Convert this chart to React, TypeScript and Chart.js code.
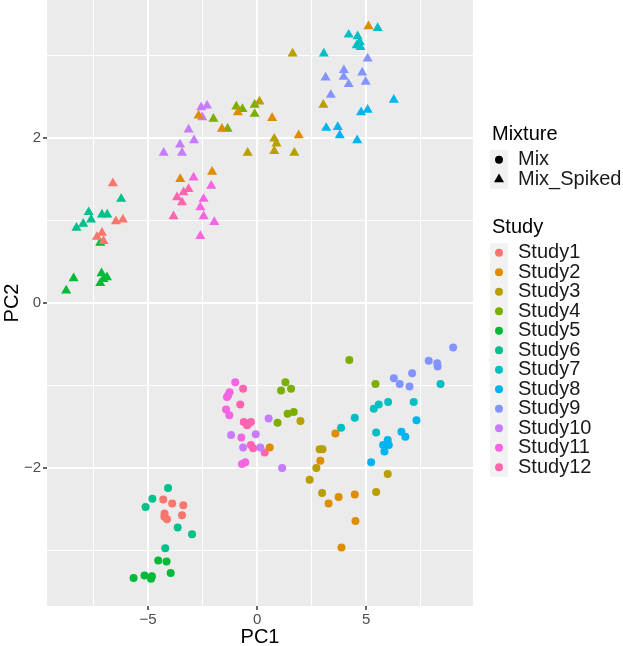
import React, { useEffect, useRef } from 'react';
import { Chart, registerables } from 'chart.js';

Chart.register(...registerables);

// ---- Categories ----
const studies = ['Study1', 'Study2', 'Study3', 'Study4', 'Study5', 'Study6', 'Study7', 'Study8', 'Study9', 'Study10', 'Study11', 'Study12'];
const studyColors = ['#F8766D', '#DE8C00', '#B79F00', '#7CAE00', '#00BA38', '#00C08B', '#00BFC4', '#00B4F0', '#8494FF', '#C77CFF', '#F564E3', '#FF64B0'];
const mixtures = ['Mix', 'Mix_Spiked'];

// ---- Axis ----
const xTickValues = [-5, 0, 5];
const yTickValues = [-2, 0, 2];
const xLimits = [-9.63, 9.9];
const yLimits = [-3.67, 3.67];
const xTitle = 'PC1';
const yTitle = 'PC2';

// ---- Mix (circles): [PC1, PC2] ----
const study1Mix = [[-4.30, -2.38], [-3.89, -2.43], [-3.38, -2.45], [-3.44, -2.57], [-4.24, -2.55], [-4.25, -2.59], [-4.13, -2.62]];
const study2Mix = [[0.58, -1.75], [2.90, -1.91], [3.59, -1.58], [3.28, -2.43], [3.74, -2.35], [4.48, -2.32], [4.51, -2.64], [3.87, -2.96]];
const study3Mix = [[1.99, -1.43], [2.87, -1.77], [3.00, -1.77], [2.72, -2.00], [2.41, -2.14], [2.98, -2.30], [5.99, -2.07], [5.46, -2.29]];
const study4Mix = [[1.30, -0.96], [1.10, -1.06], [1.56, -1.04], [1.40, -1.34], [1.68, -1.32], [0.94, -1.45], [4.23, -0.69], [5.43, -0.98]];
const study5Mix = [[-4.53, -3.12], [-4.15, -3.13], [-3.96, -3.27], [-5.66, -3.33], [-5.16, -3.30], [-4.82, -3.31], [-4.86, -3.34]];
const study6Mix = [[-4.08, -2.24], [-4.80, -2.37], [-5.11, -2.47], [-3.64, -2.72], [-2.98, -2.80], [-4.21, -2.97]];
const study7Mix = [[3.85, -1.51], [4.48, -1.39], [5.35, -1.28], [5.58, -1.23], [6.01, -1.20], [7.18, -1.20], [8.41, -0.98], [5.46, -1.57]];
const study8Mix = [[5.23, -1.93], [5.78, -1.72], [5.99, -1.66], [6.04, -1.72], [5.84, -1.80], [6.62, -1.56], [6.80, -1.62], [7.31, -1.42]];
const study9Mix = [[6.27, -0.91], [6.54, -0.98], [6.99, -1.01], [7.11, -0.85], [7.87, -0.70], [8.26, -0.73], [8.28, -0.77], [8.99, -0.54]];
const study10Mix = [[0.53, -1.40], [-1.19, -1.60], [-0.06, -1.59], [-0.64, -1.75], [0.15, -1.75], [1.15, -2.00]];
const study11Mix = [[-1.00, -0.96], [-1.26, -1.08], [-1.38, -1.14], [-1.42, -1.29], [-1.27, -1.36], [-0.72, -1.63], [-0.69, -1.95], [-0.54, -1.93], [-1.33, -1.12]];
const study12Mix = [[-0.64, -1.04], [-0.77, -1.23], [-0.61, -1.44], [-0.39, -1.46], [-0.28, -1.44], [-0.46, -1.48], [-0.28, -1.72], [-0.18, -1.76], [0.35, -1.81]];

// ---- Mix_Spiked (triangles): [PC1, PC2] ----
const study1Spiked = [[-6.61, 1.45], [-6.47, 0.99], [-6.15, 1.01], [-7.34, 0.80], [-7.11, 0.85], [-7.04, 0.75]];
const study2Spiked = [[-2.68, 2.27], [-1.61, 2.11], [-0.88, 2.31], [0.69, 2.24], [1.91, 2.03], [-2.06, 1.59], [-3.52, 1.50], [5.11, 3.35]];
const study3Spiked = [[-0.43, 1.82], [0.79, 1.99], [0.89, 1.93], [0.79, 1.84], [1.71, 1.82], [1.63, 3.02], [3.04, 2.40], [0.11, 2.44]];
const study4Spiked = [[-0.95, 2.38], [-0.67, 2.35], [-0.11, 2.40], [-0.11, 2.29], [-2.00, 2.23], [-1.35, 2.11]];
const study5Spiked = [[-7.19, 0.73], [-8.41, 0.30], [-8.75, 0.15], [-7.13, 0.36], [-6.88, 0.31], [-7.19, 0.24], [-7.04, 0.29]];
const study6Spiked = [[-6.23, 1.26], [-7.72, 1.10], [-7.61, 1.01], [-7.11, 1.07], [-6.87, 1.07], [-7.97, 0.96], [-8.28, 0.91]];
const study7Spiked = [[4.20, 3.25], [4.61, 3.23], [4.57, 3.12], [4.74, 3.10], [4.71, 3.16], [5.53, 3.33], [3.06, 3.02]];
const study8Spiked = [[6.27, 2.46], [4.77, 2.31], [5.07, 2.34], [3.17, 2.12], [3.70, 2.13], [3.79, 2.03], [4.59, 1.97]];
const study9Spiked = [[5.07, 2.96], [3.98, 2.82], [3.97, 2.74], [4.82, 2.79], [4.98, 2.68], [3.14, 2.73], [4.20, 2.65], [3.38, 2.52]];
const study10Spiked = [[-2.56, 2.37], [-2.29, 2.39], [-2.51, 2.25], [-3.14, 2.10], [-2.89, 1.97], [-3.53, 1.92], [-3.44, 1.82], [-4.28, 1.82]];
const study11Spiked = [[-2.91, 1.52], [-2.10, 1.42], [-2.45, 1.26], [-2.60, 1.16], [-2.45, 1.05], [-1.96, 0.98], [-2.60, 0.81]];
const study12Spiked = [[-3.14, 1.38], [-3.37, 1.34], [-3.67, 1.28], [-3.44, 1.22], [-3.83, 1.05]];

const mixData = [study1Mix, study2Mix, study3Mix, study4Mix, study5Mix, study6Mix, study7Mix, study8Mix, study9Mix, study10Mix, study11Mix, study12Mix];
const spikedData = [study1Spiked, study2Spiked, study3Spiked, study4Spiked, study5Spiked, study6Spiked, study7Spiked, study8Spiked, study9Spiked, study10Spiked, study11Spiked, study12Spiked];

const FONT = '"Liberation Sans", Arial, Helvetica, sans-serif';
const CIRCLE_R = 4.0;
const TRI_R = 5.8;

const fmt = (v: number) => (v < 0 ? '\u2212' + Math.abs(v) : String(v));

const ggPlugin = {
  id: 'ggDecor',
  beforeDraw(chart: any) {
    const { ctx, chartArea: a } = chart;
    ctx.save();
    ctx.fillStyle = '#FFFFFF';
    ctx.fillRect(0, 0, chart.width, chart.height);
    ctx.fillStyle = '#EBEBEB';
    ctx.fillRect(a.left, a.top, a.right - a.left, a.bottom - a.top);
    ctx.restore();
  },
  afterDraw(chart: any) {
    const { ctx, chartArea: a } = chart;
    ctx.save();
    // axis titles
    ctx.fillStyle = '#000000';
    ctx.font = `20px ${FONT}`;
    ctx.textAlign = 'center';
    ctx.textBaseline = 'middle';
    ctx.fillText(xTitle, (a.left + a.right) / 2, 637);
    ctx.save();
    ctx.translate(12, (a.top + a.bottom) / 2);
    ctx.rotate(-Math.PI / 2);
    ctx.fillText(yTitle, 0, 0);
    ctx.restore();

    // legends
    const keyX = 490;
    const keyW = 18;
    const keyH = 19.5;
    const labelX = 518;
    ctx.textAlign = 'left';

    // Mixture
    ctx.fillStyle = '#000000';
    ctx.font = `20px ${FONT}`;
    ctx.fillText('Mixture', 492, 134);
    const mTop = 150;
    ctx.fillStyle = '#F2F2F2';
    ctx.fillRect(keyX, mTop, keyW, keyH * mixtures.length);
    mixtures.forEach((m, i) => {
      const cy = mTop + keyH * i + keyH / 2;
      const cx = keyX + keyW / 2;
      ctx.fillStyle = '#000000';
      ctx.beginPath();
      if (i === 0) {
        ctx.arc(cx, cy, CIRCLE_R, 0, Math.PI * 2);
      } else {
        for (let k = 0; k < 3; k++) {
          const ang = (k * 2 * Math.PI) / 3;
          const px = cx + Math.sin(ang) * TRI_R;
          const py = cy - Math.cos(ang) * TRI_R;
          if (k === 0) ctx.moveTo(px, py);
          else ctx.lineTo(px, py);
        }
        ctx.closePath();
      }
      ctx.fill();
      ctx.fillStyle = '#1A1A1A';
      ctx.fillText(m, labelX, cy);
    });

    // Study
    ctx.fillStyle = '#000000';
    ctx.fillText('Study', 492, 227);
    const sTop = 243;
    ctx.fillStyle = '#F2F2F2';
    ctx.fillRect(keyX, sTop, keyW, keyH * studies.length);
    studies.forEach((s, i) => {
      const cy = sTop + keyH * i + keyH / 2;
      const cx = keyX + keyW / 2;
      ctx.fillStyle = studyColors[i];
      ctx.beginPath();
      ctx.arc(cx, cy, CIRCLE_R, 0, Math.PI * 2);
      ctx.fill();
      ctx.fillStyle = '#1A1A1A';
      ctx.fillText(s, labelX, cy);
    });
    ctx.restore();
  },
};

export default function App() {
  const canvasRef = useRef<HTMLCanvasElement | null>(null);

  useEffect(() => {
    if (!canvasRef.current) return;
    const datasets: any[] = [];
    studies.forEach((s, i) => {
      datasets.push({
        label: `${s} Mix`,
        data: mixData[i].map(([x, y]) => ({ x, y })),
        pointStyle: 'circle',
        pointRadius: CIRCLE_R,
        pointHoverRadius: CIRCLE_R,
        pointBackgroundColor: studyColors[i],
        pointBorderColor: studyColors[i],
        pointBorderWidth: 0,
      });
      datasets.push({
        label: `${s} Mix_Spiked`,
        data: spikedData[i].map(([x, y]) => ({ x, y })),
        pointStyle: 'triangle',
        pointRadius: TRI_R,
        pointHoverRadius: TRI_R,
        pointBackgroundColor: studyColors[i],
        pointBorderColor: studyColors[i],
        pointBorderWidth: 0,
      });
    });

    const chart = new Chart(canvasRef.current, {
      type: 'scatter',
      data: { datasets },
      plugins: [ggPlugin],
      options: {
        animation: false,
        responsive: false,
        devicePixelRatio: 1,
        layout: { autoPadding: false, padding: { left: 0, right: 150, top: 0, bottom: 0 } },
        plugins: { legend: { display: false }, tooltip: { enabled: false } },
        scales: {
          x: {
            type: 'linear',
            min: xLimits[0],
            max: xLimits[1],
            afterFit: (s: any) => {
              s.height = 40;
              s.paddingLeft = 0;
              s.paddingRight = 0;
              s.paddingTop = 0;
              s.paddingBottom = 0;
            },
            border: { display: false },
            grid: {
              color: '#FFFFFF',
              lineWidth: (c: any) => (c.tick && xTickValues.includes(c.tick.value) ? 2 : 1),
              tickLength: 4,
              tickColor: (c: any) => (c.tick && xTickValues.includes(c.tick.value) ? '#333333' : 'rgba(0,0,0,0)'),
              tickWidth: 1.5,
            },
            ticks: {
              stepSize: 2.5,
              includeBounds: false,
              autoSkip: false,
              maxRotation: 0,
              padding: 1,
              color: '#4D4D4D',
              font: { family: FONT, size: 15 },
              callback: (v: any) => (xTickValues.includes(Number(v)) ? fmt(Number(v)) : ''),
            },
          },
          y: {
            type: 'linear',
            min: yLimits[0],
            max: yLimits[1],
            afterFit: (s: any) => {
              s.width = 47;
              s.paddingLeft = 0;
              s.paddingRight = 0;
              s.paddingTop = 0;
              s.paddingBottom = 0;
            },
            border: { display: false },
            grid: {
              color: '#FFFFFF',
              lineWidth: (c: any) => (c.tick && yTickValues.includes(c.tick.value) ? 2 : 1),
              tickLength: 4,
              tickColor: (c: any) => (c.tick && yTickValues.includes(c.tick.value) ? '#333333' : 'rgba(0,0,0,0)'),
              tickWidth: 1.5,
            },
            ticks: {
              stepSize: 1,
              includeBounds: false,
              autoSkip: false,
              padding: 2,
              color: '#4D4D4D',
              font: { family: FONT, size: 15 },
              callback: (v: any) => (yTickValues.includes(Number(v)) ? fmt(Number(v)) : ''),
            },
          },
        },
      },
    });
    return () => chart.destroy();
  }, []);

  return (
    <div style={{ position: 'fixed', left: 0, top: 0, width: 623, height: 646, background: '#FFFFFF' }}>
      <canvas ref={canvasRef} width={623} height={646} style={{ width: 623, height: 646, display: 'block' }} />
    </div>
  );
}
